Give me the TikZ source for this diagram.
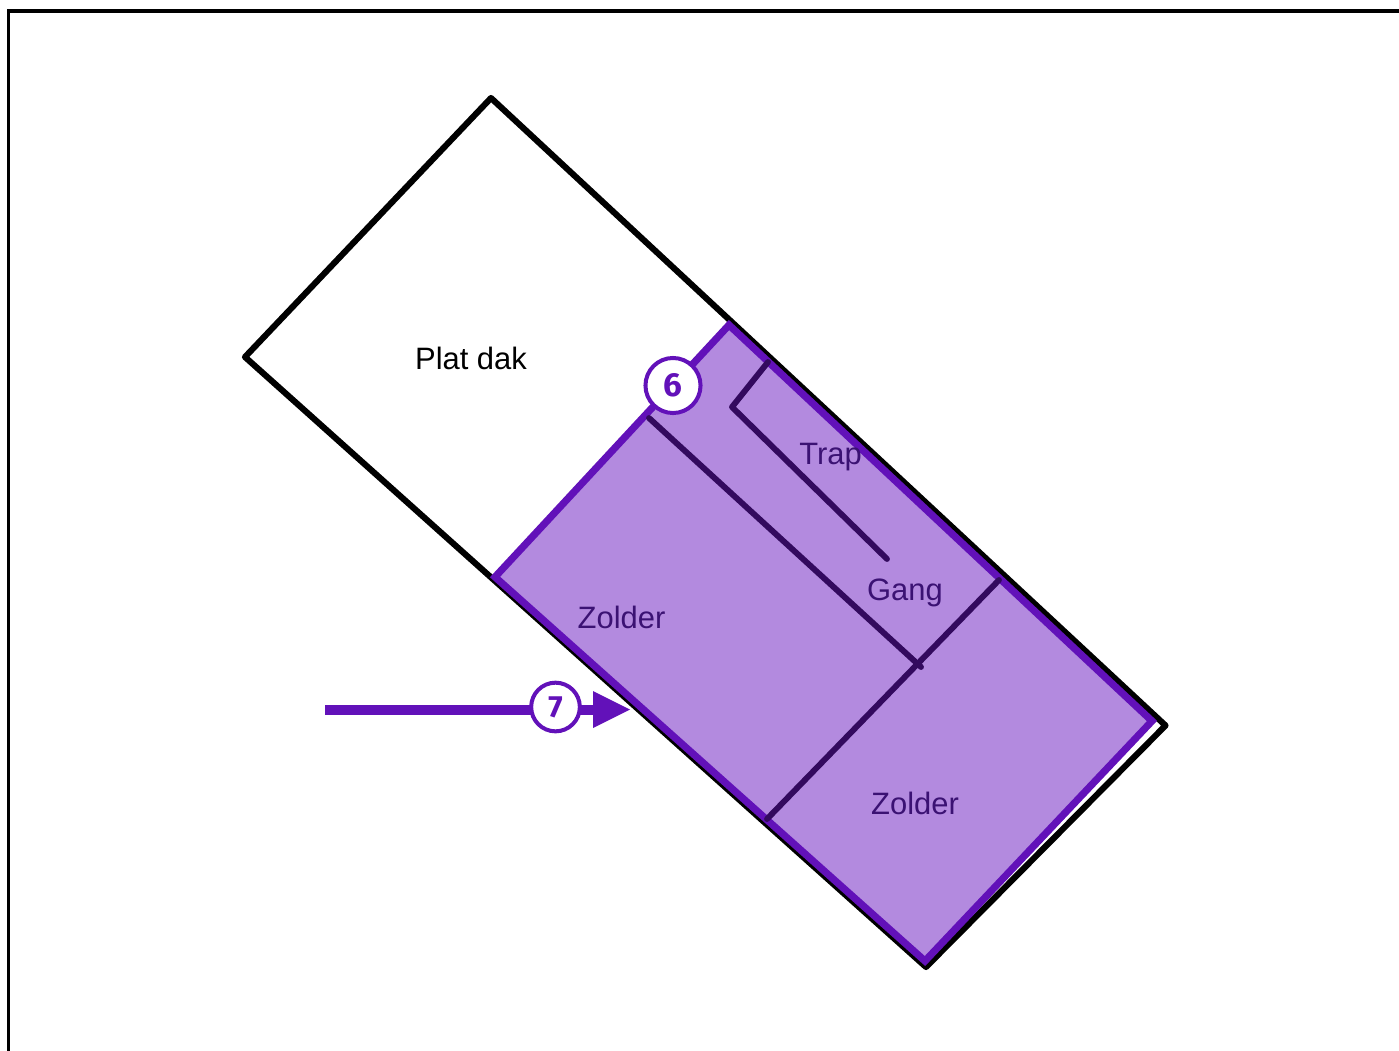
\documentclass[tikz,border=0pt]{standalone}
\usepackage{fontspec}
\setmainfont{Liberation Sans}
\newfontfamily\badgefont{Fira Sans}
\definecolor{roofline}{HTML}{000000}
\definecolor{zonepurple}{HTML}{6211B9}
\definecolor{zonefill}{HTML}{B38ADF}
\definecolor{walldark}{HTML}{330A5E}
\definecolor{labeldark}{HTML}{3B1273}
\tikzset{
  outline/.style={draw=roofline,line width=4.6pt,line join=round},
  zone/.style={draw=zonepurple,fill=zonefill,line width=5.4pt,line join=miter},
  wall/.style={draw=walldark,line width=4.4pt,line cap=round,line join=round},
  roomlabel/.style={text=labeldark,font=\fontsize{23.2}{27}\selectfont,inner sep=0pt},
  rooflabel/.style={text=black,font=\fontsize{23.2}{27}\selectfont,inner sep=0pt},
  badge/.style={circle,draw=zonepurple,fill=white,line width=3pt,inner sep=0pt,text=zonepurple},
  badgebig/.style={badge,minimum size=41.3pt,font=\badgefont\bfseries\fontsize{25}{29}\selectfont},
  badgesmall/.style={badge,minimum size=36.5pt,font=\badgefont\bfseries\fontsize{23}{27}\selectfont},
  pointer/.style={draw=zonepurple,line width=7.5pt},
  pointerhead/.style={fill=zonepurple,draw=none}
}
\begin{document}
\begin{tikzpicture}[x=0.75pt,y=-0.75pt]
\useasboundingbox (0,0) rectangle (1399,1050);
% frame
\draw[black,line width=2.7pt] (8.5,1060) -- (8.5,11) -- (1410,11);
% building outline
\draw[outline] (491,98) -- (1165.5,725.5) -- (926,967) -- (245,357) -- cycle;
% attic zone
\draw[zone] (729,325) -- (1152,721) -- (925,961) -- (495,577) -- cycle;
% inner walls
\draw[wall] (649,418) -- (921,667);
\draw[wall] (999,580) -- (767,819);
\draw[wall] (768,362) -- (732,407) -- (887,559);
% labels
\node[rooflabel] (roof) at (471,358.5) {Plat dak};
\node[roomlabel] (trap) at (830.5,457) {Trap};
\node[roomlabel] (gang) at (905,593) {Gang};
\node[roomlabel] (zolderA) at (621.5,617) {Zolder};
\node[roomlabel] (zolderB) at (915,803) {Zolder};
% pointer
\coordinate (pstart) at (325,709.5);
\coordinate (ptip) at (630,709.5);
\draw[pointer] (pstart) -- (593,709.5);
\fill[pointerhead] (593,691) -- (ptip) -- (593,728) -- cycle;
% badges
\node[badgebig] (six) at (673,385.5) {6};
\node[badgesmall] (seven) at (555.5,707) {7};
\end{tikzpicture}
\end{document}
